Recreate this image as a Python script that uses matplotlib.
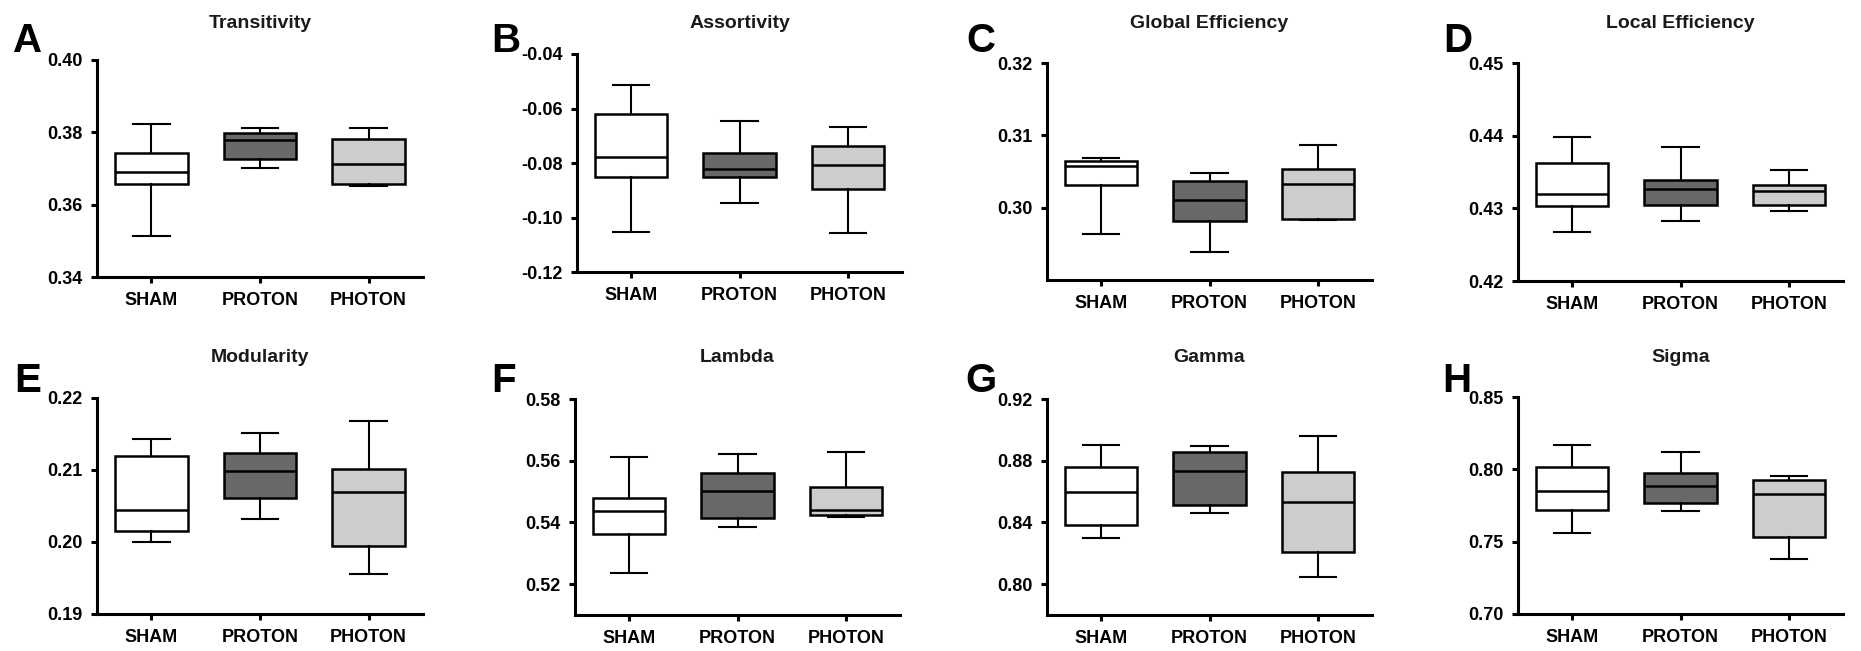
import matplotlib
matplotlib.use("Agg")
import matplotlib.pyplot as plt

plt.rcParams['font.family'] = ['Liberation Sans', 'DejaVu Sans']

groups = ["SHAM", "PROTON", "PHOTON"]
colors = ["#ffffff", "#686868", "#cdcdcd"]

# each row: whisker low, q1, median, q3, whisker high  (SHAM, PROTON, PHOTON)
transitivity = [[0.3514, 0.3658, 0.3690, 0.3742, 0.3823],
                [0.3701, 0.3725, 0.3778, 0.3799, 0.3811],
                [0.3652, 0.3657, 0.3713, 0.3781, 0.3811]]
assortivity = [[-0.1054, -0.0850, -0.0779, -0.0619, -0.0515],
               [-0.0946, -0.0851, -0.0821, -0.0765, -0.0645],
               [-0.1057, -0.0897, -0.0809, -0.0736, -0.0667]]
global_eff = [[0.2963, 0.3031, 0.3057, 0.3065, 0.3069],
              [0.2939, 0.2981, 0.3010, 0.3037, 0.3048],
              [0.2983, 0.2984, 0.3033, 0.3053, 0.3086]]
local_eff = [[0.4267, 0.4303, 0.4320, 0.4363, 0.4398],
             [0.4282, 0.4304, 0.4327, 0.4339, 0.4384],
             [0.4297, 0.4305, 0.4324, 0.4332, 0.4353]]
modularity = [[0.2000, 0.2015, 0.2045, 0.2119, 0.2143],
              [0.2032, 0.2061, 0.2098, 0.2123, 0.2152],
              [0.1955, 0.1994, 0.2070, 0.2102, 0.2168]]
lambda_ = [[0.5236, 0.5364, 0.5436, 0.5478, 0.5613],
           [0.5386, 0.5414, 0.5501, 0.5561, 0.5621],
           [0.5417, 0.5423, 0.5440, 0.5516, 0.5629]]
gamma = [[0.8298, 0.8383, 0.8599, 0.8757, 0.8900],
         [0.8458, 0.8512, 0.8735, 0.8858, 0.8893],
         [0.8048, 0.8208, 0.8534, 0.8727, 0.8958]]
sigma = [[0.7559, 0.7718, 0.7847, 0.8015, 0.8168],
         [0.7709, 0.7764, 0.7886, 0.7974, 0.8119],
         [0.7383, 0.7531, 0.7831, 0.7928, 0.7951]]

titles = ["Transitivity", "Assortivity", "Global Efficiency", "Local Efficiency",
          "Modularity", "Lambda", "Gamma", "Sigma"]
letters = ["A", "B", "C", "D", "E", "F", "G", "H"]
panel_data = [transitivity, assortivity, global_eff, local_eff,
              modularity, lambda_, gamma, sigma]
y_limits = [(0.34, 0.40), (-0.12, -0.04), (0.29, 0.32), (0.42, 0.45),
            (0.19, 0.22), (0.51, 0.58), (0.78, 0.92), (0.70, 0.85)]
y_ticks = [[0.34, 0.36, 0.38, 0.40], [-0.12, -0.10, -0.08, -0.06, -0.04],
           [0.30, 0.31, 0.32], [0.42, 0.43, 0.44, 0.45],
           [0.19, 0.20, 0.21, 0.22], [0.52, 0.54, 0.56, 0.58],
           [0.80, 0.84, 0.88, 0.92], [0.70, 0.75, 0.80, 0.85]]

W, H = 1861, 651
fig = plt.figure(figsize=(W / 100, H / 100), dpi=100)

# axes boxes in pixels: left, top, right, bottom
boxes = [(97, 60, 423, 277), (577, 54, 902, 272), (1047, 63, 1372, 280), (1518, 63, 1843, 281),
         (97, 398, 423, 614), (575, 399, 900, 615), (1047, 399, 1372, 615), (1518, 397, 1843, 614)]
letter_pos = [(13, 52), (491, 52), (966, 52), (1443, 52),
              (14, 392), (491, 392), (965, 392), (1442, 392)]
title_y = [28, 28, 28, 28, 362, 362, 362, 362]

for i in range(8):
    l, t, r, b = boxes[i]
    ax = fig.add_axes([l / W, 1 - b / H, (r - l) / W, (b - t) / H])
    stats = []
    for g, row in zip(groups, panel_data[i]):
        stats.append(dict(label=g, whislo=row[0], q1=row[1], med=row[2], q3=row[3], whishi=row[4]))
    bp = ax.bxp(stats, positions=[1, 2, 3], widths=0.67, patch_artist=True, showfliers=False,
                boxprops=dict(linewidth=1.8, edgecolor="black"),
                medianprops=dict(color="black", linewidth=1.8),
                whiskerprops=dict(color="black", linewidth=1.5),
                capprops=dict(color="black", linewidth=1.5))
    for patch, c in zip(bp["boxes"], colors):
        patch.set_facecolor(c)
    ax.set_xlim(0.5, 3.5)
    ax.set_ylim(*y_limits[i])
    ax.set_yticks(y_ticks[i])
    ax.set_yticklabels(["%.2f" % v for v in y_ticks[i]])
    for s in ["top", "right"]:
        ax.spines[s].set_visible(False)
    for s in ["left", "bottom"]:
        ax.spines[s].set_linewidth(2.2)
    ax.tick_params(axis="both", width=2.2, length=4.5, labelsize=13)
    ax.tick_params(axis="x", pad=6)
    ax.tick_params(axis="y", pad=6)
    for lab in ax.get_xticklabels() + ax.get_yticklabels():
        lab.set_fontweight("bold")
    fig.text((l + r) / 2 / W, 1 - title_y[i] / H, titles[i], ha="center", va="baseline",
             fontsize=14, fontweight="bold", color="#1a1a1a")
    fig.text(letter_pos[i][0] / W, 1 - letter_pos[i][1] / H, letters[i], ha="left", va="baseline",
             fontsize=29, fontweight="bold")

fig.savefig("out.png", dpi=100)
